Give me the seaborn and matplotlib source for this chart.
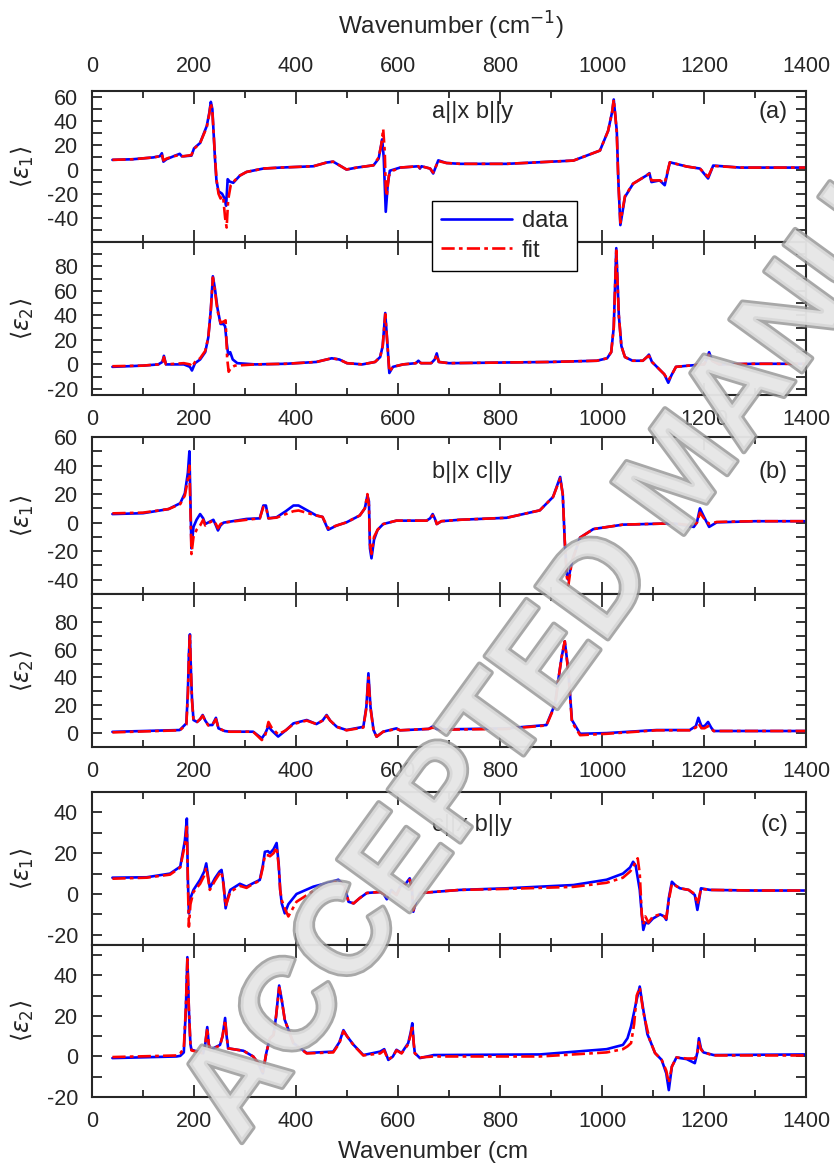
import matplotlib
matplotlib.use("Agg")
import matplotlib.pyplot as plt
import matplotlib.patheffects as pe
from matplotlib.lines import Line2D
from matplotlib.ticker import MultipleLocator, FixedLocator
import seaborn as sns

# ---------------- data (wavenumber in cm-1) ----------------
# (a) a||x b||y
a1_x = [40, 80, 120, 133, 137, 140, 146, 160, 172, 176, 180, 195, 200, 212, 225, 230, 233, 236, 241, 244,
        248, 255, 260, 263, 266, 270, 277, 290, 303, 336, 369, 434, 460, 473, 499, 519, 552, 562, 566, 569,
        572, 576, 580, 584, 604, 640, 643, 646, 663, 669, 679, 695, 722, 813, 944, 996, 1012, 1020, 1023, 1026,
        1029, 1032, 1036, 1045, 1061, 1087, 1093, 1097, 1113, 1123, 1133, 1166, 1192, 1208, 1218, 1271, 1400]
a1_data = [8, 8.5, 10, 11, 13.5, 6.5, 8.5, 11, 13, 11, 11, 11.5, 17.5, 22, 36, 47, 56, 50, 10, -9,
           -18, -20, -24, -30, -8, -10, -11, -5, -2, 0.8, 1.6, 2.7, 5.8, 6.5, 0, 1.6, 3.5, 9, 18, 25,
           10, -35, -12, -1, 1.6, 2.7, 0.8, 2.7, 0.8, -3.3, 7.6, 5.4, 4.7, 4.7, 7.4, 15.7, 32, 48, 58, 45,
           32, -9, -46, -22.7, -11.7, -5, -3, -10.4, -9, -13, 6, 2.5, 0.8, -7.4, 3.3, 1.6, 1.6]
a1_fit_x = [40, 80, 120, 133, 137, 140, 146, 160, 172, 176, 180, 195, 200, 212, 225, 230, 233, 236, 241, 244,
            248, 252, 257, 261, 264, 267, 272, 280, 290, 303, 336, 369, 434, 460, 473, 499, 519, 552, 562, 567,
            571, 574, 576, 578, 582, 590, 604, 640, 643, 646, 663, 669, 679, 695, 722, 813, 944, 996, 1012, 1020,
            1023, 1026, 1029, 1032, 1036, 1045, 1061, 1087, 1093, 1097, 1113, 1123, 1133, 1166, 1192, 1208, 1218,
            1271, 1400]
a1_fit = [8, 8.5, 10, 11, 12.5, 7.5, 9, 11, 12, 11, 11, 12, 17, 22, 35, 46, 55, 48, 12, -8,
          -20, -24, -22, -40, -48, -25, -13, -9, -5, -2, 0.8, 1.6, 2.7, 5.8, 6.5, 0, 1.6, 3.5, 10, 20,
          33.5, 15, -15, -22, -5, -1, 1.6, 2.7, 1.2, 2.7, 0.8, -2.5, 7, 5.4, 4.7, 4.7, 7.4, 15.7, 32, 48,
          58, 45, 30, -10, -44, -22, -11.7, -5, -3.5, -9, -9, -11, 6, 2.5, 0.8, -6, 3, 1.6, 1.6]

a2_x = [40, 100, 130, 138, 141, 145, 180, 192, 196, 202, 212, 222, 228, 233, 237, 241, 246, 252, 258, 261,
        264, 267, 271, 276, 285, 320, 380, 440, 470, 485, 500, 530, 555, 565, 570, 575, 579, 583, 590, 610,
        635, 640, 645, 665, 672, 676, 680, 700, 800, 900, 990, 1010, 1018, 1023, 1028, 1033, 1038, 1045, 1060,
        1080, 1088, 1092, 1098, 1110, 1122, 1130, 1136, 1145, 1170, 1200, 1206, 1210, 1216, 1230, 1300, 1400]
a2_data = [-2, -1, 0, 2, 7, 0, 0, -2, -5, 1, 4, 10, 22, 45, 72, 62, 46, 33, 33, 31,
           18, 8, 10, 4, 1, 0, 0.5, 2, 5, 4, 1, 0, 2, 6, 15, 42, 18, -7, -2, 0,
           1, 3, 1, 1, 4, 9, 2, 1, 1.5, 2, 3, 5, 10, 30, 95, 40, 15, 6, 3,
           3, 6, 8, 2, -3, -8, -15, -9, -2, -1, 0, 5, 10, 3, 0, 0.5, 0.5]
a2_fit_x = [40, 100, 130, 138, 141, 145, 180, 192, 196, 202, 212, 222, 228, 233, 237, 241, 246, 252, 258, 262,
            265, 268, 272, 280, 320, 380, 440, 470, 485, 500, 530, 555, 565, 570, 575, 579, 583, 590, 610, 635,
            640, 645, 665, 672, 676, 680, 700, 800, 900, 990, 1010, 1018, 1023, 1028, 1033, 1038, 1045, 1060, 1080,
            1088, 1092, 1098, 1110, 1122, 1130, 1136, 1145, 1170, 1200, 1206, 1210, 1216, 1230, 1300, 1400]
a2_fit = [-1.5, -1, 0, 2, 6, 0, 1, 0, -2, 2, 5, 11, 22, 44, 71, 60, 44, 34, 35, 36,
          5, -6, -3, -1, 0, 0.5, 2, 5, 4, 1, 0, 2, 6, 15, 41, 18, -6, -2, 0, 1,
          3, 1, 1, 4, 8, 2, 1, 1.5, 2, 3, 5, 10, 30, 93, 40, 15, 6, 3, 3,
          6, 7, 2, -3, -8, -13, -9, -2, -1, 0, 4, 8, 3, 0, 0.5, 0.5]

# (b) b||x c||y
b1_x = [40, 100, 150, 173, 182, 188, 191, 193, 195, 199, 205, 212, 218, 222, 230, 238, 243, 247, 252, 258,
        303, 329, 336, 341, 346, 362, 380, 395, 405, 420, 440, 452, 463, 480, 499, 525, 535, 540, 543, 545,
        548, 553, 560, 571, 597, 656, 663, 668, 672, 676, 685, 721, 813, 878, 904, 918, 923, 927, 931, 934,
        941, 957, 983, 1041, 1139, 1180, 1186, 1192, 1200, 1210, 1225, 1300, 1400]
b1_data = [6, 6.6, 9.5, 13.6, 20.5, 35, 50, 15, -18, -3, 2, 6, 3, -1, 0.5, 2, -2, -5.5, -2, 0,
           2.6, 3, 12, 12, 3, 3.8, 8, 12, 12, 9, 5, 4, -5, -2, 0.2, 5, 10, 19, 15, -18,
           -25, -12, -5, -1, 1.4, 1.4, 3, 6, 3, -1, 1, 2, 3.4, 8.6, 18, 32, 20, -13, -36, -40,
           -27, -10.5, -4.5, -1.4, -0.5, -3, 0, 10, 4, -3, 0.2, 1, 1]
b1_fit = [6.5, 7, 9.5, 13, 19, 30, 40, 10, -22, -10, -5, -2, 2, -2, 0, 1.5, -1, -4, -1, 0,
          2, 3, 11, 11, 3, 3.5, 6, 8, 8.5, 7, 5, 4, -4, -2, 0.2, 5, 10, 20, 12, -15,
          -22, -10, -5, -1, 1.4, 1.4, 3, 5, 4, -1, 1, 2, 3.4, 8.6, 18, 31, 20, -13, -38, -44,
          -27, -10.5, -4.5, -1.4, -0.5, -2, 0, 7, 3, -1, 0.5, 1, 1]

b2_x = [40, 172, 185, 188, 190, 192, 194, 196, 199, 206, 212, 217, 222, 228, 236, 243, 248, 260, 270, 316,
        333, 340, 346, 352, 365, 380, 395, 421, 440, 452, 460, 467, 480, 499, 532, 538, 542, 546, 552, 558,
        571, 597, 604, 660, 669, 675, 696, 813, 891, 908, 915, 921, 927, 934, 941, 957, 1009, 1107, 1172, 1184,
        1189, 1195, 1201, 1208, 1214, 1219, 1300, 1400]
b2_data = [0.9, 2.2, 7, 30, 57, 71, 45, 25, 9.4, 8, 10, 13, 9, 5.8, 5.8, 11, 3.4, 1.5, 1, 1,
           -3.8, 0, 5, 2, -2.5, 2, 7, 9.4, 6.5, 9, 13, 9, 4.5, 2.2, 4.5, 19, 43, 19, 2.2, -2.6,
           1, 3.4, 2, 3, 5, 3, 2.7, 3.4, 5.8, 21, 40, 55, 66, 45, 9.4, -0.5, 0, 2.2, 2.2, 5,
           11, 5, 5, 8, 4, 1.5, 1.5, 1.5]
b2_fit = [0.5, 2, 6, 28, 55, 70, 45, 24, 9, 8, 10, 12.5, 9, 5.5, 6, 10, 3.4, 1.5, 1, 1,
          -5, -1, 8, 4, -1, 2, 6.5, 9, 6.5, 9, 12.5, 9, 4.5, 2, 4, 18, 40, 18, 2, -2.6,
          1, 3, 2, 3, 4, 3, 2.5, 3, 5.5, 20, 40, 55, 66, 44, 8, -1.5, -0.5, 2, 2, 4,
          7, 3.5, 3.5, 5, 3, 1.5, 1.5, 1.5]

# (c) c||x b||y
c1_x = [40, 107, 153, 173, 182, 186, 188, 190, 193, 199, 212, 220, 224, 228, 231, 241, 250, 254, 258, 262,
        266, 271, 290, 303, 316, 329, 335, 339, 345, 349, 356, 362, 366, 369, 372, 378, 385, 401, 434, 470,
        483, 495, 503, 513, 525, 539, 565, 572, 578, 587, 597, 604, 615, 623, 627, 630, 636, 643, 670, 721,
        813, 944, 1009, 1041, 1055, 1061, 1066, 1070, 1074, 1078, 1081, 1085, 1091, 1100, 1114, 1122, 1126, 1131,
        1137, 1145, 1153, 1170, 1182, 1187, 1191, 1194, 1212, 1300, 1400]
c1_data = [8, 8.2, 10, 13.4, 26, 37, 7, -9.5, -2, 2, 7, 11, 15, 8, 3, 7.7, 11, 11.8, 5, -7,
           -2, 2, 5, 3.6, 5.3, 6.9, 14, 20.7, 21, 20, 22, 25, 15, 2, -4.6, -9.5, -5, 0, 3.6, 6,
           7, 4, -3.8, -4.6, -2, 0.5, 1, 0, -2.6, 2, -0.5, 3.6, 5, 7.7, 4, -8.7, -3, 0.5, 1, 2,
           2.8, 4.4, 7, 10, 13, 15.8, 14, 8, 2, -10, -17.6, -14, -14.4, -12, -10, -11, -12.7, -2,
           6, 4, 2.8, 2, -0.5, -7.8, -2, 2.8, 2, 1.7, 1.7]
c1_fit = [7.5, 8, 9.5, 13, 24, 33, 5, -16, -5, 1, 5, 9, 13, 7, 2, 6.5, 10, 11, 4, -6,
          -3, 1, 4, 3, 5, 6.5, 13, 19, 19, 18.5, 20, 23, 14, 2, -3, -7, -11, -3.8, 1.5, 5,
          6.5, 4, -3.8, -4.6, -2, 0.5, 1, 0, -2, 1.5, -0.5, 3, 5, 7, 3, -8, -3, 0.5, 1, 2,
          2.5, 3.5, 5.5, 8, 11, 13, 16, 17.5, 10, -10, -15, -11, -14, -11, -10, -11, -12, -3,
          5, 4, 2.8, 2, 0, -5, -1, 2.5, 2, 1.7, 1.7]

c2_x = [40, 166, 173, 180, 184, 187, 190, 193, 195, 218, 222, 226, 229, 232, 251, 256, 261, 264, 267, 297,
        316, 325, 335, 342, 349, 356, 361, 367, 372, 378, 395, 421, 473, 485, 493, 500, 513, 532, 565, 573,
        577, 581, 590, 597, 607, 620, 625, 628, 631, 633, 643, 670, 878, 1009, 1041, 1050, 1057, 1063, 1068, 1074,
        1081, 1089, 1094, 1104, 1117, 1126, 1131, 1137, 1146, 1166, 1182, 1187, 1190, 1194, 1199, 1219, 1400]
c2_data = [-0.8, 0, 0.3, 2, 23, 49, 23, 6, 3.3, 1.6, 6, 14.5, 6, 3.3, 5.7, 10, 19, 10, 4, 2.8,
           0, -3, -8.3, 2, 9, 10.7, 20, 35, 28, 18, 6.6, 1.7, 2.4, 7, 13, 10, 5.7, 0.7, 2.4, 3.6,
           1, -1.7, 0, 3.3, 1.7, 6.6, 12, 16.4, 6, 1.7, -0.8, 0.7, 1, 3.6, 5.7, 9, 14.8, 22, 28, 34.5,
           23, 11, 8, 1.7, -1.7, -8.3, -16.6, -5, -0.5, -1.3, -3.3, 2, 9, 4, 2, 0.7, 1]
c2_fit = [-0.3, 0.5, 1.5, 4, 24, 48, 23, 6, 3, 1.5, 6, 14, 6, 3, 5.5, 10, 18, 10, 4, 2.8,
          0, -3, -7.5, 2, 9, 10.5, 20, 34, 28, 18, 6.5, 1.5, 2, 6.5, 12.5, 10, 5.5, 0.5, 1.5, 3,
          0.5, -1.5, 0, 3, 1.5, 6, 11, 15.5, 6, 1.5, -0.5, 0, 0, 2, 3.6, 5, 6.6, 16, 30, 34,
          22, 13, 8, 1.7, -1.7, -7, -13, -5, -0.5, -1, -1, 2, 7, 3.5, 2, 0.5, 0.5]

# ---------------- style ----------------
sns.set_style("ticks")
plt.rcParams['font.family'] = ['Liberation Sans', 'DejaVu Sans']
plt.rcParams['mathtext.fontset'] = 'dejavusans'
plt.rcParams['axes.unicode_minus'] = False

W, H = 834, 1167
fig = plt.figure(figsize=(W / 100, H / 100), dpi=100)
fig.patch.set_facecolor('white')

LEFT, RIGHT = 92, 806
BLUE, RED = '#0000ff', '#ff0000'
FIT_LS = (0, (5, 1.6, 1.4, 1.6))

panels = [
    # top, bottom, data, ylim, labelled y ticks, layer (1 = eps1, 2 = eps2)
    (91, 242, (a1_x, a1_data, a1_fit_x, a1_fit), (-60, 65), [-40, -20, 0, 20, 40, 60], 1),
    (242, 395, (a2_x, a2_data, a2_fit_x, a2_fit), (-25, 100), [-20, 0, 20, 40, 60, 80], 2),
    (437, 594, (b1_x, b1_data, b1_x, b1_fit), (-50, 60), [-40, -20, 0, 20, 40, 60], 1),
    (594, 747, (b2_x, b2_data, b2_x, b2_fit), (-10, 100), [0, 20, 40, 60, 80], 2),
    (792, 945, (c1_x, c1_data, c1_x, c1_fit), (-25, 50), [-20, 0, 20, 40], 1),
    (945, 1097, (c2_x, c2_data, c2_x, c2_fit), (-20, 55), [-20, 0, 20, 40], 2),
]

axes = []
for i, (top, bot, (dx, dy, fx, fy), ylim, yt, idx) in enumerate(panels):
    ax = fig.add_axes([LEFT / W, 1 - bot / H, (RIGHT - LEFT) / W, (bot - top) / H])
    sns.lineplot(x=dx, y=dy, ax=ax, color=BLUE, lw=1.9, estimator=None, sort=False)
    sns.lineplot(x=fx, y=fy, ax=ax, color=RED, lw=1.9, estimator=None, sort=False, linestyle=FIT_LS)
    ax.set_xlim(0, 1400)
    ax.set_ylim(*ylim)
    ax.xaxis.set_major_locator(MultipleLocator(200))
    ax.xaxis.set_minor_locator(MultipleLocator(100))
    ax.yaxis.set_major_locator(FixedLocator(yt))
    ax.yaxis.set_minor_locator(MultipleLocator(10))
    ax.tick_params(which='both', direction='in', top=True, right=True, width=1.3,
                   labelsize=15.5, pad=10)
    ax.tick_params(axis='x', which='major', length=9)
    ax.tick_params(axis='x', which='minor', length=5)
    ax.tick_params(axis='y', which='both', length=7)
    ax.tick_params(axis='x', labelbottom=(idx == 2), labeltop=(i == 0))
    for sp in ax.spines.values():
        sp.set_linewidth(1.5)
    ax.set_xlabel('')
    ax.set_ylabel(r'$\langle\varepsilon_%d\rangle$' % idx, fontsize=17)
    ax.yaxis.set_label_coords(-0.078, 0.5)
    axes.append(ax)

# panel annotations
for y, t1, t2 in [(112, 'a||x b||y', '(a)'), (472, 'b||x c||y', '(b)'), (825, 'c||x b||y', '(c)')]:
    fig.text(432 / W, 1 - y / H, t1, fontsize=17, va='center', ha='left')
    fig.text(788 / W, 1 - y / H, t2, fontsize=17, va='center', ha='right')

# axis titles
fig.text(338 / W, 1 - 26 / H, 'Wavenumber (cm$^{-1}$)', fontsize=17.5, ha='left', va='center')
fig.text(338 / W, 1 - 1152 / H, 'Wavenumber (cm', fontsize=17.5, ha='left', va='center')

# legend straddling the two (a) layers
handles = [Line2D([], [], color=BLUE, lw=1.9), Line2D([], [], color=RED, lw=1.9, linestyle=FIT_LS)]
leg = fig.legend(handles, ['data', 'fit'], loc='upper left', bbox_to_anchor=(432 / W, 1 - 201 / H),
                 frameon=True, fancybox=False, edgecolor='black', framealpha=1, fontsize=17,
                 handlelength=3.0, borderpad=0.4, labelspacing=0.3, handletextpad=0.4, borderaxespad=0)
leg.get_frame().set_linewidth(1.0)

# watermark
fig.text(240 / W, 1 - 1145 / H, 'ACCEPTED MANUSCRIPT', rotation=54, rotation_mode='anchor',
         ha='left', va='baseline', fontsize=93, fontweight='bold', color='#e6e6e6', alpha=0.8,
         zorder=20, path_effects=[pe.withStroke(linewidth=4, foreground='#939393')])

fig.savefig('out.png', dpi=100, facecolor='white')
